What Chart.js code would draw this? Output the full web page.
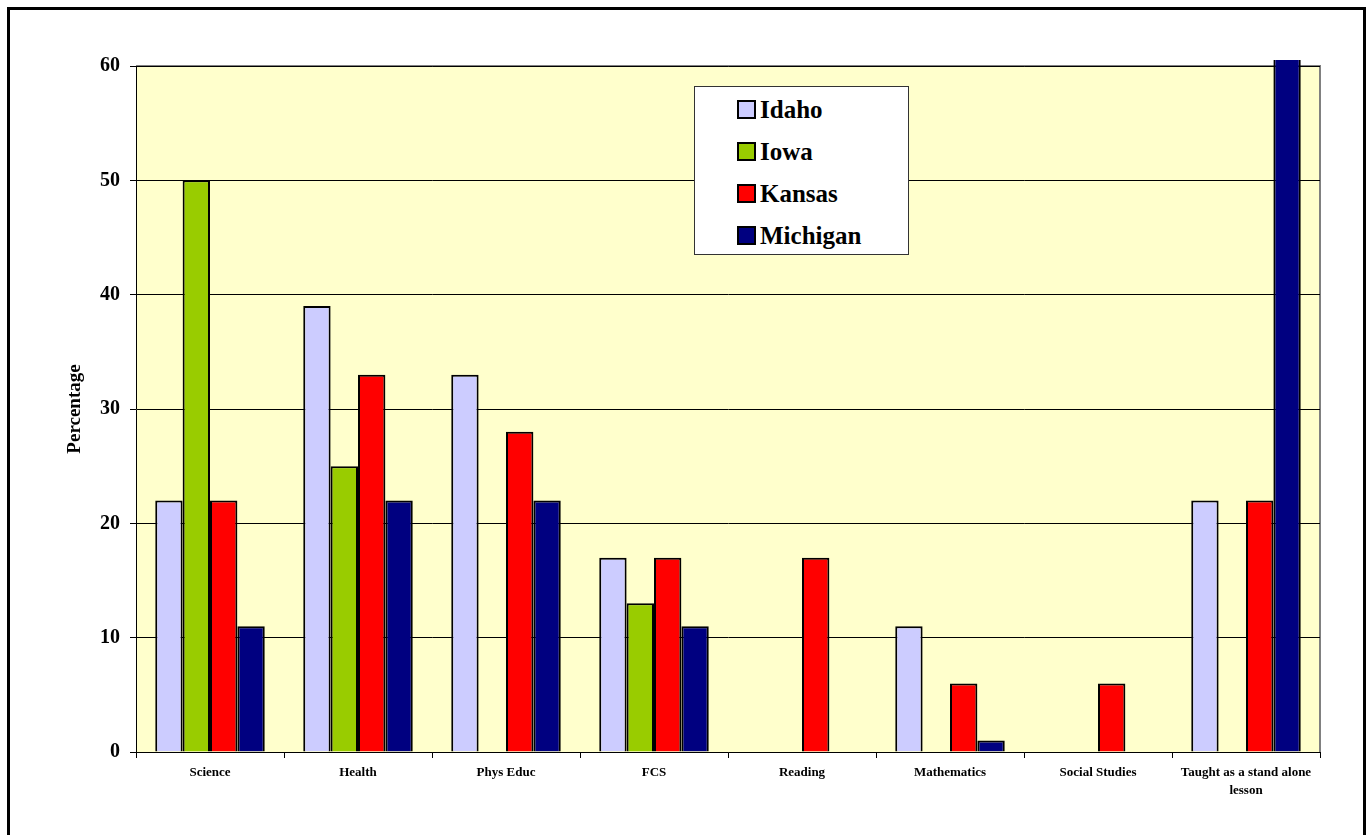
<!DOCTYPE html>
<html>
<head>
<meta charset="utf-8">
<script src="https://cdn.jsdelivr.net/npm/chart.js@4"></script>
<style>
  html, body { margin: 0; padding: 0; background: #fff; }
  #wrap { position: relative; width: 1372px; height: 835px; overflow: hidden; }
  #frame { position: absolute; left: 7px; top: 7px; width: 1353px; height: 900px; border: 3px solid #000; }
  #chart1 { position: absolute; left: 0; top: 0; }
  #legend {
    position: absolute; left: 694px; top: 86px; width: 215px; height: 169px;
    background: #fff; border: 1px solid #333; box-sizing: border-box;
    font-family: "Liberation Serif", "Times New Roman", serif; font-weight: bold; font-size: 25px;
  }
  #legend div { position: absolute; left: 42px; height: 26px; line-height: 26px; }
  #legend span { display: inline-block; width: 15px; height: 15px; border: 2px solid #000; vertical-align: -1px; margin-right: 4px; }
</style>
</head>
<body>
<div id="wrap">
  <div id="frame"></div>
  <canvas id="chart1" width="1372" height="835"></canvas>
  <div id="legend"></div>
</div>
<script>
// Percentage of schools teaching the topic, by subject and state
const categories = ['Science', 'Health', 'Phys Educ', 'FCS', 'Reading', 'Mathematics', 'Social Studies', ['Taught as a stand alone', 'lesson']];
const states = ['Idaho', 'Iowa', 'Kansas', 'Michigan'];
const idaho    = [22, 39, 33, 17, 0, 11, 0, 22];
const iowa     = [50, 25, 0, 13, 0, 0, 0, 0];
const kansas   = [22, 33, 28, 17, 17, 6, 6, 22];
const michigan = [11, 22, 22, 11, 0, 1, 0, 67];
const yTicks = [0, 10, 20, 30, 40, 50, 60];
const colors = ['#CCCCFF', '#99CC00', '#FF0000', '#000080'];

const serif = '"Liberation Serif", "Times New Roman", serif';

const plotBg = {
    id: 'plotBg',
    beforeDraw(chart) {
        const a = chart.chartArea;
        const ctx = chart.ctx;
        ctx.save();
        ctx.fillStyle = '#FFFFCC';
        ctx.fillRect(a.left, a.top, a.right - a.left, a.bottom - a.top);
        ctx.strokeStyle = '#808080';
        ctx.lineWidth = 2;
        ctx.beginPath();
        ctx.moveTo(a.left, a.top);
        ctx.lineTo(a.right, a.top);
        ctx.lineTo(a.right, a.bottom);
        ctx.stroke();
        ctx.restore();
    }
};

const seriesData = [idaho, iowa, kansas, michigan];
const datasets = states.map((s, i) => ({
    label: s,
    data: seriesData[i],
    backgroundColor: colors[i],
    borderColor: '#000',
    borderWidth: 2,
    borderSkipped: 'bottom',
    categoryPercentage: 0.74,
    barPercentage: 1.0,
    clip: { left: 0, top: 6, right: 0, bottom: 0 }
}));

const ctx = document.getElementById('chart1').getContext('2d');
const chart1 = new Chart(ctx, {
    type: 'bar',
    data: { labels: categories, datasets: datasets },
    options: {
        responsive: false,
        animation: false,
        layout: { padding: { left: 64, top: 66, right: 52, bottom: 10 } },
        plugins: {
            legend: { display: false },
            tooltip: { enabled: false }
        },
        scales: {
            x: {
                grid: { offset: true, drawOnChartArea: false, tickLength: 6, color: '#000' },
                border: { color: '#000', width: 1 },
                ticks: { color: '#000', font: { family: serif, weight: 'bold', size: 13, lineHeight: 1.35 }, maxRotation: 0, autoSkip: false, padding: 6 },
                afterFit(scale) { scale.height = 73; }
            },
            y: {
                min: 0, max: 60,
                afterBuildTicks(scale) { scale.ticks = yTicks.map(v => ({ value: v })); },
                grid: { color: '#000', tickLength: 6 },
                border: { color: '#000', width: 1 },
                ticks: { color: '#000', font: { family: serif, weight: 'bold', size: 20 }, padding: 10 },
                title: { display: true, text: 'Percentage', color: '#000', font: { family: serif, weight: 'bold', size: 19 }, padding: 0 },
                afterFit(scale) { scale.width = 72; }
            }
        }
    },
    plugins: [plotBg]
});

const legend = document.getElementById('legend');
states.forEach((s, i) => {
    const row = document.createElement('div');
    row.style.top = (10 + i * 42) + 'px';
    row.innerHTML = '<span style="background:' + colors[i] + '"></span>' + s;
    legend.appendChild(row);
});
</script>
</body>
</html>
